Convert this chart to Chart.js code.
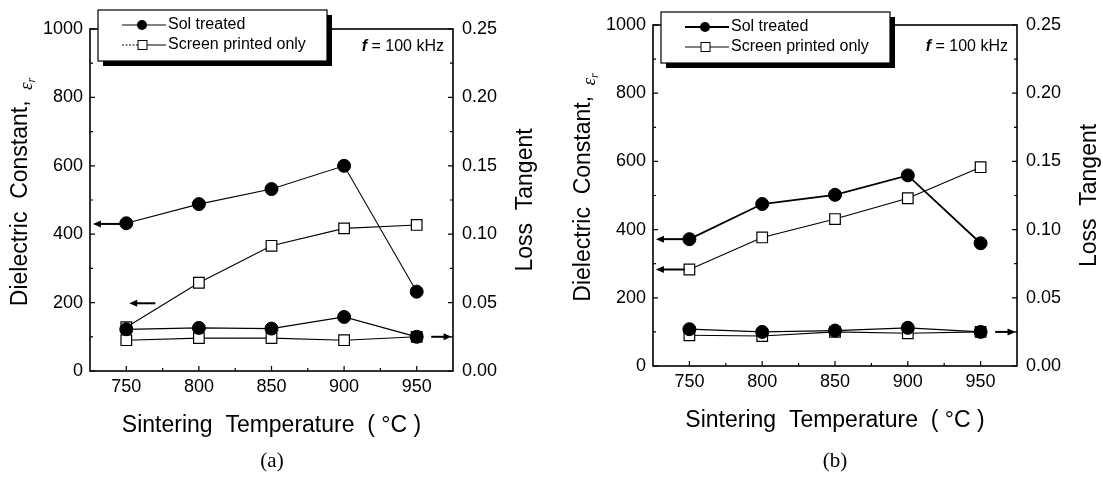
<!DOCTYPE html>
<html>
<head>
<meta charset="utf-8">
<script src="https://cdn.jsdelivr.net/npm/chart.js@4.4.1/dist/chart.umd.min.js"></script>
<style>
  html,body{margin:0;padding:0;background:#fff;}
  body{width:1103px;height:477px;position:relative;overflow:hidden;font-family:"Liberation Sans",Arial,sans-serif;}
  canvas{position:absolute;top:0;}
  #ca{left:0;}
  #cb{left:551px;}
  .cap{position:absolute;font-family:"Liberation Serif","Times New Roman",serif;font-size:21px;color:#000;transform:translate(-50%,-50%);}
</style>
</head>
<body>
<canvas id="ca" width="551" height="477"></canvas>
<canvas id="cb" width="552" height="477"></canvas>
<div class="cap" style="left:272px;top:460px;">(a)</div>
<div class="cap" style="left:835px;top:460px;">(b)</div>
<script>
// ---------- data ----------
const temps = [750, 800, 850, 900, 950];
// (a)
const epsSolA = [432, 488, 532, 600, 232];
const epsScrA = [128, 258, 366, 417, 427];
const tanSolA = [0.0305, 0.0315, 0.031, 0.0395, 0.025];
const tanScrA = [0.0225, 0.024, 0.024, 0.0225, 0.025];
// (b)
const epsSolB = [372, 475, 502, 559, 360];
const epsScrB = [283, 377, 431, 492, 583];
const tanSolB = [0.027, 0.025, 0.026, 0.028, 0.025];
const tanScrB = [0.0225, 0.022, 0.025, 0.024, 0.025];

// ticks
const xTicks = [750, 800, 850, 900, 950];
const xMinor = [775, 825, 875, 925];
const yTicks = [0, 200, 400, 600, 800, 1000];
const yMinor = [100, 300, 500, 700, 900];
const y1Ticks = [0, 0.05, 0.10, 0.15, 0.20, 0.25];
const y1Minor = [0.025, 0.075, 0.125, 0.175, 0.225];

// arrow annotations (data units): which axis, value, tail x, head x
const arrowsA = [
  {axis:'y', v:430, from:747, to:727},
  {axis:'y', v:198, from:770, to:752},
  {axis:'y1', v:0.025, from:960, to:974}
];
const arrowsB = [
  {axis:'y', v:372, from:747, to:727},
  {axis:'y', v:283, from:747, to:727},
  {axis:'y1', v:0.025, from:960, to:974}
];

const seriesNames = ['Sol treated', 'Screen printed only'];
const freqText = '= 100 kHz';

const FAM = '"Liberation Sans", Arial, sans-serif';

function pts(xs, ys){ return xs.map((x,i)=>({x:x, y:ys[i]})); }

const framePlugin = {
  id:'frameTicks',
  afterDatasetsDraw(chart){
    const {ctx, chartArea:a, scales} = chart;
    ctx.save();
    ctx.strokeStyle = '#000';
    ctx.lineWidth = 1.6;
    ctx.strokeRect(a.left, a.top, a.right-a.left, a.bottom-a.top);
    ctx.lineWidth = 1.2;
    ctx.beginPath();
    xTicks.forEach(v=>{const p=scales.x.getPixelForValue(v); ctx.moveTo(p,a.bottom); ctx.lineTo(p,a.bottom-5);});
    xMinor.forEach(v=>{const p=scales.x.getPixelForValue(v); ctx.moveTo(p,a.bottom); ctx.lineTo(p,a.bottom-3);});
    yTicks.forEach(v=>{const p=scales.y.getPixelForValue(v); ctx.moveTo(a.left,p); ctx.lineTo(a.left+5,p);});
    yMinor.forEach(v=>{const p=scales.y.getPixelForValue(v); ctx.moveTo(a.left,p); ctx.lineTo(a.left+3,p);});
    y1Ticks.forEach(v=>{const p=scales.y1.getPixelForValue(v); ctx.moveTo(a.right,p); ctx.lineTo(a.right-5,p);});
    y1Minor.forEach(v=>{const p=scales.y1.getPixelForValue(v); ctx.moveTo(a.right,p); ctx.lineTo(a.right-3,p);});
    ctx.stroke();
    ctx.restore();
  }
};

const decorPlugin = {
  id:'decor',
  afterDraw(chart, args, o){
    const {ctx, chartArea:a, scales} = chart;
    ctx.save();
    // arrows
    ctx.strokeStyle='#000'; ctx.fillStyle='#000'; ctx.lineWidth=2;
    o.arrows.forEach(ar=>{
      const y = scales[ar.axis].getPixelForValue(ar.v);
      const x0 = scales.x.getPixelForValue(ar.from), x1 = scales.x.getPixelForValue(ar.to);
      const dir = Math.sign(x1-x0);
      ctx.beginPath(); ctx.moveTo(x0,y); ctx.lineTo(x1-dir*6,y); ctx.stroke();
      ctx.beginPath(); ctx.moveTo(x1,y); ctx.lineTo(x1-dir*8,y-3.5); ctx.lineTo(x1-dir*8,y+3.5); ctx.closePath(); ctx.fill();
    });
    // legend box
    const bl = a.left+8, bt = o.legTop, bw = 229, bh = 51;
    ctx.fillStyle='#000';
    ctx.fillRect(bl+5, bt+5, bw, bh);
    ctx.fillStyle='#fff';
    ctx.fillRect(bl, bt, bw, bh);
    ctx.strokeStyle='#000'; ctx.lineWidth=1.2;
    ctx.strokeRect(bl, bt, bw, bh);
    const r1 = bt+15, r2 = bt+35;
    // row 1
    ctx.lineWidth = o.solLegW;
    ctx.beginPath(); ctx.moveTo(bl+24, r1); ctx.lineTo(bl+68, r1); ctx.stroke();
    ctx.beginPath(); ctx.arc(bl+44, r1, 5, 0, Math.PI*2); ctx.fillStyle='#000'; ctx.fill();
    // row 2
    ctx.lineWidth = 1;
    if (o.dotted){ ctx.setLineDash([2,1.5]); }
    ctx.beginPath(); ctx.moveTo(bl+24, r2); ctx.lineTo(bl+40, r2); ctx.stroke();
    ctx.setLineDash([]);
    ctx.beginPath(); ctx.moveTo(bl+48, r2); ctx.lineTo(bl+68, r2); ctx.stroke();
    ctx.fillStyle='#fff'; ctx.fillRect(bl+40, r2-4.5, 9, 9);
    ctx.strokeRect(bl+40, r2-4.5, 9, 9);
    ctx.fillStyle='#000';
    ctx.font = '16px '+FAM; ctx.textBaseline='middle'; ctx.textAlign='left';
    ctx.fillText(seriesNames[0], bl+70, r1);
    ctx.fillText(seriesNames[1], bl+70, r2);
    // frequency
    ctx.textAlign='right';
    const fw = ctx.measureText(freqText).width;
    ctx.fillText(freqText, a.right-9, 47);
    ctx.font = 'italic bold 16px '+FAM;
    ctx.fillText('f ', a.right-9-fw, 47);
    // axis titles
    const cy = (a.top+a.bottom)/2;
    ctx.save();
    ctx.translate(a.left-69, cy); ctx.rotate(-Math.PI/2);
    const main = 'Dielectric  Constant, ';
    ctx.font = '23px '+FAM; const w1 = ctx.measureText(main).width;
    ctx.font = 'italic 19px "Liberation Serif", serif'; const w2 = ctx.measureText('ε').width;
    ctx.font = 'italic 12px "Liberation Serif", serif'; const w3 = ctx.measureText('r').width;
    let sx = -(w1+w2+w3)/2 + 6;
    ctx.textAlign='left'; ctx.textBaseline='middle';
    ctx.font = '23px '+FAM; ctx.fillText(main, sx, 0);
    ctx.font = 'italic 19px "Liberation Serif", serif'; ctx.fillText('ε', sx+w1+4, 6);
    ctx.font = 'italic 12px "Liberation Serif", serif'; ctx.fillText('r', sx+w1+4+w2, 11);
    ctx.restore();
    ctx.save();
    ctx.translate(a.right+73, cy); ctx.rotate(-Math.PI/2);
    ctx.textAlign='center'; ctx.textBaseline='middle';
    ctx.font = '23px '+FAM; ctx.fillText('Loss  Tangent', 0, 0);
    ctx.restore();
    ctx.textAlign='center'; ctx.textBaseline='middle';
    ctx.font = '23px '+FAM;
    ctx.fillText('Sintering  Temperature  ( °C )', (a.left+a.right)/2, a.bottom+o.xTitleOff);
    ctx.restore();
  }
};

function makeChart(id, d){
  const tickFont = {size:18, family:FAM};
  const noGrid = {display:false, drawTicks:false, tickLength:0};
  return new Chart(document.getElementById(id), {
    type:'scatter',
    data:{datasets:[
      {label:'Sol eps', data:pts(temps,d.epsSol), yAxisID:'y', showLine:true, borderColor:'#000', borderWidth:d.solW, pointStyle:'circle', pointRadius:6.5, pointBackgroundColor:'#000', pointBorderColor:'#000', pointBorderWidth:1},
      {label:'Sol tan', data:pts(temps,d.tanSol), yAxisID:'y1', showLine:true, borderColor:'#000', borderWidth:1.2, pointStyle:'circle', pointRadius:6.5, pointBackgroundColor:'#000', pointBorderColor:'#000', pointBorderWidth:1},
      {label:'Scr eps', data:pts(temps,d.epsScr), yAxisID:'y', showLine:true, borderColor:'#000', borderWidth:1.1, pointStyle:'rect', pointRadius:7.5, pointBackgroundColor:'#fff', pointBorderColor:'#000', pointBorderWidth:1.2},
      {label:'Scr tan', data:pts(temps,d.tanScr), yAxisID:'y1', showLine:true, borderColor:'#000', borderWidth:1.1, pointStyle:'rect', pointRadius:7.5, pointBackgroundColor:'#fff', pointBorderColor:'#000', pointBorderWidth:1.2}
    ]},
    options:{
      responsive:false, animation:false, events:[],
      layout:{padding:{top:d.top, left:0, right:0, bottom:0}},
      plugins:{legend:{display:false}, tooltip:{enabled:false},
        decor:{arrows:d.arrows, legTop:d.legTop, dotted:d.dotted, solLegW:d.solLegW, xTitleOff:55}},
      scales:{
        x:{type:'linear', position:'bottom', min:725, max:975,
          afterBuildTicks:s=>{s.ticks = xTicks.map(v=>({value:v}));},
          afterFit:s=>{s.height = d.xh;},
          grid:noGrid, border:{display:false},
          ticks:{font:tickFont, color:'#000', padding:5, maxRotation:0, autoSkip:false, callback:v=>String(v)}},
        y:{type:'linear', position:'left', min:0, max:1000,
          afterBuildTicks:s=>{s.ticks = yTicks.map(v=>({value:v}));},
          afterFit:s=>{s.width = d.lw;},
          grid:noGrid, border:{display:false},
          ticks:{font:tickFont, color:'#000', padding:7, callback:v=>String(v)}},
        y1:{type:'linear', position:'right', min:0, max:0.25,
          afterBuildTicks:s=>{s.ticks = y1Ticks.map(v=>({value:v}));},
          afterFit:s=>{s.width = d.rw;},
          grid:noGrid, border:{display:false},
          ticks:{font:tickFont, color:'#000', padding:9, callback:v=>Number(v).toFixed(2)}}
      }
    },
    plugins:[framePlugin, decorPlugin]
  });
}

makeChart('ca', {epsSol:epsSolA, epsScr:epsScrA, tanSol:tanSolA, tanScr:tanScrA, arrows:arrowsA,
  top:29, xh:106, lw:90, rw:98, legTop:10, dotted:true, solW:1.1, solLegW:1.1});
makeChart('cb', {epsSol:epsSolB, epsScr:epsScrB, tanSol:tanSolB, tanScr:tanScrB, arrows:arrowsB,
  top:25, xh:111, lw:102, rw:86, legTop:12, dotted:false, solW:1.8, solLegW:2});
</script>
</body>
</html>
